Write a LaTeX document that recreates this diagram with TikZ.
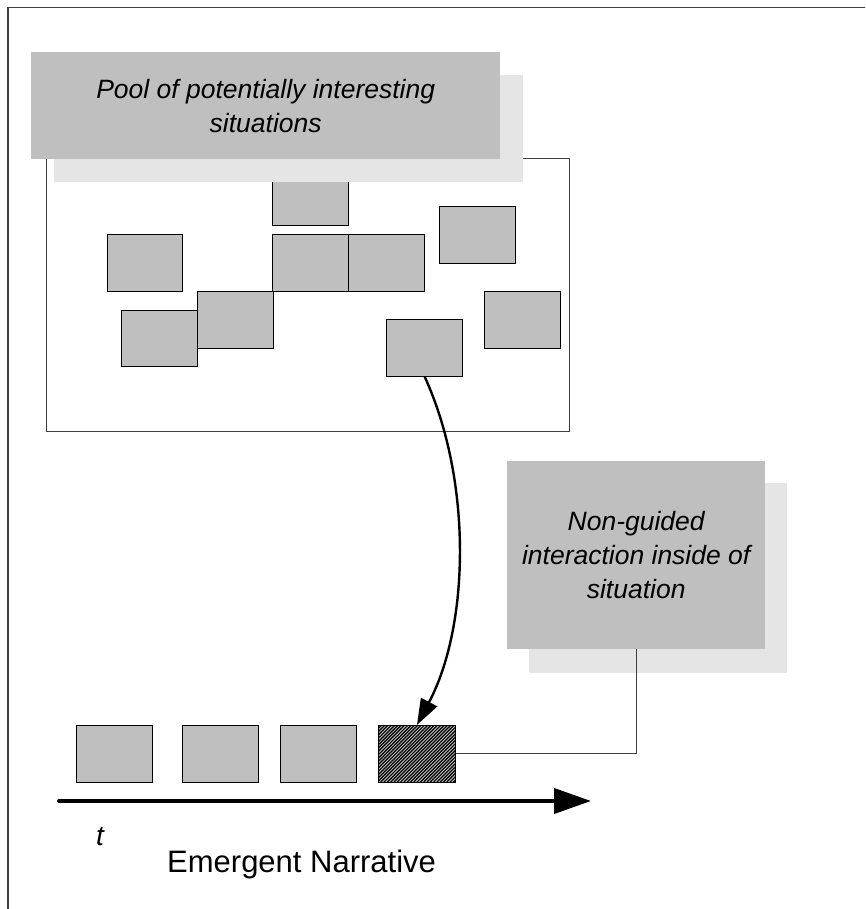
\documentclass[tikz,border=0pt]{standalone}
\usepackage{fontspec}
\setmainfont{Liberation Sans}
\usetikzlibrary{arrows.meta}
\definecolor{boxgray}{gray}{0.75}
\definecolor{shadowgray}{gray}{0.9}
\definecolor{framegray}{gray}{0.25}
\begin{document}
\begin{tikzpicture}[x=1pt,y=-1pt,
  situ/.style={draw=black, line width=0.9pt, fill=boxgray, minimum width=75.8pt,
    minimum height=56.7pt, inner sep=0pt, anchor=north west},
  timebox/.style={situ, minimum width=76pt, minimum height=56.5pt},
  labelbox/.style={fill=boxgray, inner sep=0pt, anchor=north west, align=center,
    font=\fontsize{26.5}{34}\selectfont\itshape},
  shadowbox/.style={fill=shadowgray, inner sep=0pt, anchor=north west},
  thinline/.style={draw=framegray, line width=1.1pt}
]
\useasboundingbox (0,0) rectangle (865,909);

% page frame
\draw[framegray, line width=1.6pt] (8,909) -- (8,7.5) -- (865,7.5);

% container of situations
\node[thinline, anchor=north west, inner sep=0pt, minimum width=523pt, minimum height=273pt]
  (pool) at (46,158) {};

% situations in the pool
\node[situ] (s1) at (272.4,168.3) {};
\node[situ] (s2) at (106.5,234.3) {};
\node[situ] (s3) at (272.4,234.3) {};
\node[situ] (s4) at (348.2,234.3) {};
\node[situ] (s5) at (438.8,206.0) {};
\node[situ] (s6) at (197.4,291.0) {};
\node[situ] (s7) at (121.3,309.7) {};
\node[situ] (s8) at (386.4,319.3) {};
\node[situ] (s9) at (484.2,291.0) {};

% pool title with its shadow
\node[shadowbox, minimum width=469pt, minimum height=107pt] (poolshadow) at (54,75) {};
\node[labelbox, minimum width=469pt, minimum height=107pt] (pooltitle) at (31,52)
  {Pool of potentially interesting\\situations};

% interaction label with its shadow
\node[shadowbox, minimum width=258pt, minimum height=190pt] (ngshadow) at (529,483) {};
\node[labelbox, minimum width=258pt, minimum height=188pt] (ng) at (507,461)
  {Non-guided\\interaction inside of\\situation};

% situations along the time line
\node[timebox] (n1) at (76,725) {};
\node[timebox] (n2) at (182,725) {};
\node[timebox] (n3) at (280,725) {};
\node[timebox, minimum width=77pt,
  path picture={
    \foreach \i in {0,...,55}
      \draw[black, line width=1.2pt]
        ([xshift=\i*3.3pt-90pt]path picture bounding box.south west) -- ++(90,-90);
  }] (hatch) at (378,725) {};

% chosen situation moved into the narrative
\draw[black, line width=2.4pt, -{Triangle[length=26pt,width=18pt]}]
  (s8.south) .. controls (472,480) and (470,625) .. (hatch.north);

% link to the interaction label
\draw[thinline] (hatch.east) -| (ng.south);

% time axis
\coordinate (t0) at (59,801);
\coordinate (t1) at (591,801);
\draw[black, line width=4pt, line cap=round, -{Triangle[length=37pt,width=25pt]}] (t0) -- (t1);

\node[anchor=base west, inner sep=0pt, font=\fontsize{28}{34}\selectfont\itshape] (tlabel) at (96,845) {t};
\node[anchor=base west, inner sep=0pt, font=\fontsize{31}{36}\selectfont] (narr) at (167,872) {Emergent Narrative};
\end{tikzpicture}
\end{document}
